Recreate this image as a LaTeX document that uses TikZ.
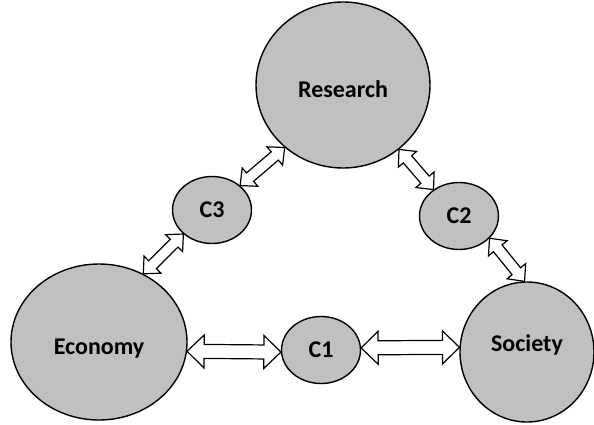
\documentclass[tikz,border=0pt]{standalone}
\usepackage{fontspec}
\setmainfont{Carlito}
\usetikzlibrary{calc,shapes.geometric}
\definecolor{bubble}{RGB}{192,192,192}
% hollow two-headed arrow from #1 to #2: head half width #3, shaft half width #4, head length #5
\newcommand\twoway[5]{%
\coordinate (p) at ($(#1)!#5!(#2)$);
\coordinate (q) at ($(#2)!#5!(#1)$);
\draw[link](#1)--($(p)!#3!90:(#2)$)--($(p)!#4!90:(#2)$)--($(q)!#4!-90:(#1)$)--($(q)!#3!-90:(#1)$)
  --(#2)--($(q)!#3!90:(#1)$)--($(q)!#4!90:(#1)$)--($(p)!#4!-90:(#2)$)--($(p)!#3!-90:(#2)$)--cycle;}
\begin{document}
\begin{tikzpicture}[x=1pt,y=1pt,
  blob/.style={ellipse,draw,line width=1.4pt,fill=bubble,inner sep=0pt,font=\fontsize{24}{28}\selectfont\bfseries},
  small/.style={blob,minimum width=79pt,minimum height=67pt},
  link/.style={draw,fill=white,line width=1.2pt,line join=miter}]
\useasboundingbox (0,0) rectangle (594,424);
\node[blob,minimum width=174pt,minimum height=166pt,text height=25pt,text depth=0pt] (research) at (343,339) {Research};
\node[blob,minimum width=176pt,minimum height=156pt,text height=25pt,text depth=0pt] (economy) at (99,82) {Economy};
\node[blob,minimum width=134pt,minimum height=140pt,text height=0pt,text depth=1pt] (society) at (527,72) {Society};
\node[small] (c1) at (321,74) {C1};
\node[small] (c2) at (459,208) {C2};
\node[small] (c3) at (212,214) {C3};
% links
\twoway{economy.-6.6}{c1.183}{16.5pt}{7pt}{17pt}
\twoway{c1.3}{society.176.5}{16.5pt}{7pt}{17pt}
\twoway{c3.41}{research.227}{12pt}{5.5pt}{13pt}
\twoway{economy.57.5}{c3.220}{12pt}{5.5pt}{13pt}
\twoway{research.311}{c2.134}{12pt}{5.5pt}{13pt}
\twoway{c2.-36}{society.92}{12pt}{5.5pt}{13pt}
\end{tikzpicture}
\end{document}
